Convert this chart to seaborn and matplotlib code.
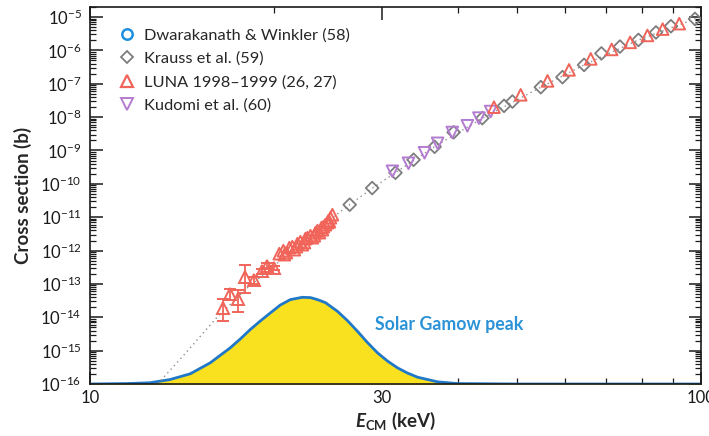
import matplotlib
matplotlib.use("Agg")
import matplotlib.pyplot as plt
import seaborn as sns
import pandas as pd
from matplotlib.lines import Line2D
from matplotlib.ticker import FixedLocator, FixedFormatter, LogLocator, NullFormatter

sns.set_theme(style="ticks")
plt.rcParams["font.family"] = ["Lato", "DejaVu Sans"]
plt.rcParams["mathtext.fontset"] = "custom"
plt.rcParams["mathtext.rm"] = "Lato"
plt.rcParams["mathtext.it"] = "Lato:italic"
plt.rcParams["mathtext.bf"] = "Lato:bold"
plt.rcParams["mathtext.bfit"] = "Lato:bold:italic"

# ---- data (E in keV, cross section in barn) ----
luna_err_E = [16.49, 16.96, 17.45, 17.95, 18.52, 19.12, 19.49, 19.98]
luna_err_sigma = [1.88e-14, 5.1e-14, 3.5e-14, 1.65e-13, 1.28e-13, 2.38e-13, 3.53e-13, 3.0e-13]
luna_err_low = [8.0e-15, 3.2e-14, 1.41e-14, 5.4e-14, 1.0e-13, 2.0e-13, 3.0e-13, 2.6e-13]
luna_err_high = [3.6e-14, 7.2e-14, 6.8e-14, 3.8e-13, 1.6e-13, 2.8e-13, 4.1e-13, 3.4e-13]

luna_E = [20.41, 20.72, 20.80, 20.96, 21.20, 21.44, 21.60, 21.77, 21.85, 22.10, 22.26,
          22.44, 22.52, 22.69, 22.95, 23.12, 23.29, 23.39, 23.56, 23.74, 23.92, 24.01,
          24.10, 24.28, 24.47, 24.56, 24.65, 24.75, 24.93,
          45.83, 50.69, 56.08, 60.82, 66.00, 71.41, 76.56, 81.72, 86.55, 92.13]
luna_sigma = [8.07e-13, 9.93e-13, 7.53e-13, 8.65e-13, 1.22e-12, 1.31e-12, 1.06e-12, 1.31e-12,
              1.61e-12, 1.85e-12, 1.50e-12, 1.73e-12, 2.27e-12, 2.43e-12, 2.79e-12, 2.43e-12,
              2.79e-12, 3.44e-12, 3.94e-12, 3.44e-12, 4.85e-12, 4.22e-12, 5.20e-12, 5.96e-12,
              6.84e-12, 7.85e-12, 7.33e-12, 9.66e-12, 1.19e-11,
              1.99e-8, 4.66e-8, 1.22e-7, 2.61e-7, 5.57e-7, 1.07e-6, 1.74e-6, 2.81e-6, 4.35e-6, 6.34e-6]

krauss_E = [26.61, 28.96, 31.62, 33.85, 36.64, 39.37, 43.86, 47.60, 49.13, 54.68,
            59.33, 64.36, 68.71, 73.68, 79.00, 84.39, 89.29, 97.76]
krauss_sigma = [2.37e-11, 7.48e-11, 2.15e-10, 5.27e-10, 1.29e-9, 3.51e-9, 9.33e-9, 2.18e-8,
                2.93e-8, 7.91e-8, 1.58e-7, 3.68e-7, 8.13e-7, 1.30e-6, 2.06e-6, 3.46e-6,
                5.31e-6, 8.77e-6]

kudomi_E = [31.26, 33.21, 35.28, 37.06, 39.17, 41.46, 43.30, 45.26]
kudomi_sigma = [2.38e-10, 4.14e-10, 8.53e-10, 1.64e-9, 3.46e-9, 5.50e-9, 9.33e-9, 1.47e-8]

fit_E = [12.9, 14.3, 16.1, 18.0, 20.0, 22.5, 25.0, 26.6, 29.0, 31.6, 36.6, 43.9,
         54.7, 64.4, 79.0, 97.8, 100.0]
fit_sigma = [1.0e-16, 8.0e-16, 9.5e-15, 7.0e-14, 3.5e-13, 2.0e-12, 1.0e-11, 2.37e-11,
             7.5e-11, 2.15e-10, 1.29e-9, 9.3e-9, 7.9e-8, 3.7e-7, 2.06e-6, 8.8e-6, 1.0e-5]

gamow_E = [10.0, 11.5, 12.54, 13.52, 14.59, 15.73, 16.96, 17.61, 18.29, 18.99, 19.73,
           20.48, 21.28, 22.26, 22.95, 23.56, 24.28, 25.41, 26.38, 27.40, 28.45, 29.55,
           30.68, 31.86, 33.08, 34.36, 37.06, 39.96, 50.0, 100.0]
gamow_sigma = [1.0e-16, 1.03e-16, 1.09e-16, 1.36e-16, 2.02e-16, 4.31e-16, 1.21e-15, 2.22e-15,
               4.28e-15, 7.69e-15, 1.35e-14, 2.32e-14, 3.39e-14, 3.97e-14, 3.89e-14, 3.39e-14,
               2.75e-14, 1.51e-14, 7.96e-15, 3.81e-15, 1.75e-15, 8.59e-16, 4.88e-16, 3.05e-16,
               2.13e-16, 1.60e-16, 1.16e-16, 1.03e-16, 1.0e-16, 1.0e-16]

x_ticks = [10, 30, 100]
x_tick_labels = ["10", "30", "100"]
x_minor = [20, 40, 50, 60, 70, 80, 90]

c_luna = "#f0645a"
c_krauss = "#7d7d7d"
c_kudomi = "#b47cd0"
c_dw = "#1e90e0"
c_gamow_fill = "#f9e11f"
c_gamow_line = "#1f78c8"
c_gamow_text = "#2b92d8"

fig = plt.figure(figsize=(7.09, 4.36), dpi=100)
ax = fig.add_axes([90 / 709, 1 - 384 / 436, 611 / 709, 377 / 436])
ax.set_xscale("log")
ax.set_yscale("log")

# Gamow window
gamow = pd.DataFrame({"E": gamow_E, "sigma": gamow_sigma})
ax.fill_between(gamow["E"], 1e-17, gamow["sigma"], color=c_gamow_fill, lw=0, zorder=1)
sns.lineplot(data=gamow, x="E", y="sigma", color=c_gamow_line, lw=2, ax=ax, zorder=2,
             sort=False, estimator=None)

# S-factor fit
fit = pd.DataFrame({"E": fit_E, "sigma": fit_sigma})
sns.lineplot(data=fit, x="E", y="sigma", color="#909090", lw=1, ls=(0, (1, 2.5)), ax=ax,
             zorder=2, sort=False, estimator=None)

sns.scatterplot(x=krauss_E, y=krauss_sigma, marker="D", s=42, facecolors="none",
                edgecolors=c_krauss, linewidth=1.3, ax=ax, zorder=3)
sns.scatterplot(x=kudomi_E, y=kudomi_sigma, marker="v", s=70, facecolors="none",
                edgecolors=c_kudomi, linewidth=1.4, ax=ax, zorder=4)
sns.scatterplot(x=luna_E, y=luna_sigma, marker="^", s=70, facecolors="none",
                edgecolors=c_luna, linewidth=1.4, ax=ax, zorder=5)

yerr = [[s - lo for s, lo in zip(luna_err_sigma, luna_err_low)],
        [hi - s for s, hi in zip(luna_err_sigma, luna_err_high)]]
ax.errorbar(luna_err_E, luna_err_sigma, yerr=yerr, fmt="^", ms=8.5, mfc="none",
            mec=c_luna, mew=1.4, ecolor=c_luna, elinewidth=1.3, capsize=4.3,
            capthick=1.3, zorder=5)

ax.text(29.22, 6.0e-15, "Solar Gamow peak", color=c_gamow_text, fontsize=12.8,
        fontweight="bold", ha="left", va="center")

ax.set_xlim(10, 100)
ax.set_ylim(1e-16, 2e-5)

ax.xaxis.set_major_locator(FixedLocator(x_ticks))
ax.xaxis.set_major_formatter(FixedFormatter(x_tick_labels))
ax.xaxis.set_minor_locator(FixedLocator(x_minor))
ax.xaxis.set_minor_formatter(NullFormatter())
ax.yaxis.set_major_locator(LogLocator(base=10, numticks=30))
ax.yaxis.set_minor_locator(LogLocator(base=10, subs=range(2, 10), numticks=30))
ax.yaxis.set_minor_formatter(NullFormatter())

ax.tick_params(which="both", direction="in", top=True, right=True, colors="#1a1a1a",
               labelsize=12)
ax.tick_params(which="major", length=9, width=1.1)
ax.tick_params(which="minor", length=4.5, width=0.9)
ax.tick_params(axis="x", pad=4)
ax.tick_params(axis="y", pad=6)
for sp in ax.spines.values():
    sp.set_linewidth(1.2)
    sp.set_color("#1a1a1a")

ax.set_xlabel(r"$\mathbfit{E}_{\mathbf{CM}}$ (keV)", fontsize=13.5, fontweight="bold",
              labelpad=3)
ax.set_ylabel("Cross section (b)", fontsize=13.5, fontweight="bold", labelpad=6)

handles = [
    Line2D([], [], ls="", marker="o", ms=7.5, mfc="none", mec=c_dw, mew=1.8),
    Line2D([], [], ls="", marker="D", ms=6.5, mfc="none", mec=c_krauss, mew=1.3),
    Line2D([], [], ls="", marker="^", ms=8.5, mfc="none", mec=c_luna, mew=1.6),
    Line2D([], [], ls="", marker="v", ms=8.5, mfc="none", mec=c_kudomi, mew=1.4),
]
labels = ["Dwarakanath & Winkler (58)", "Krauss et al. (59)", "LUNA 1998\u20131999 (26, 27)",
          "Kudomi et al. (60)"]
ax.legend(handles, labels, loc="upper left", bbox_to_anchor=(0.037, 0.962), frameon=False,
          fontsize=11.8, handlelength=1.0, handletextpad=0.5, labelspacing=0.55,
          borderaxespad=0)

fig.savefig("out.png", dpi=100)
